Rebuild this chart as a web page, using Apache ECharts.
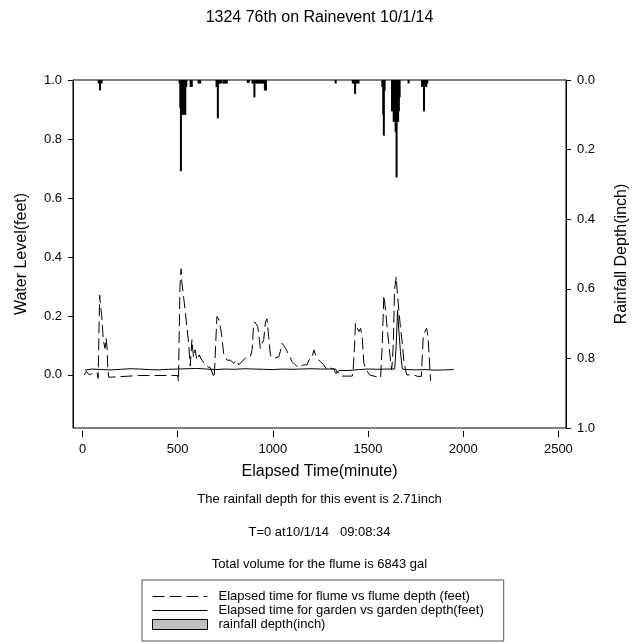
<!DOCTYPE html>
<html>
<head>
<meta charset="utf-8">
<script src="https://cdn.jsdelivr.net/npm/echarts@6/dist/echarts.min.js"></script>
<style>
html,body{margin:0;padding:0;background:#fff;}
#main{width:639px;height:642px;}
</style>
</head>
<body>
<div id="main"></div>
<script>
// flume depth (dashed), minutes / feet
var flumeTime = [10,20,28,36,48,60,76,82,90,94,101,109,118,124,129,133,138,145,300,500,504,512,518,521,539,557,566,575,583,592,601,613,627,636,653,671,680,692,697,706,715,724,732,741,750,759,768,776,785,794,803,811,820,829,838,846,855,864,882,891,899,904,913,920,929,934,943,952,961,969,978,987,996,1004,1013,1022,1031,1039,1048,1057,1066,1075,1083,1092,1101,1110,1118,1127,1136,1145,1162,1180,1189,1206,1215,1224,1233,1250,1267,1285,1303,1320,1329,1346,1355,1417,1422,1429,1434,1443,1452,1461,1469,1478,1487,1496,1508,1513,1566,1569,1575,1583,1592,1601,1609,1618,1624,1627,1633,1639,1648,1654,1662,1671,1680,1688,1697,1703,1741,1759,1780,1785,1790,1799,1808,1815,1822,1825,1829];
var flumeDepth = [0.0,0.012,0.008,0.0,0.004,0.008,0.008,-0.012,0.27,0.24,0.2,0.12,0.09,0.125,0.09,0.02,-0.008,-0.002,-0.002,-0.002,-0.023,0.3,0.36,0.32,0.22,0.11,0.03,0.12,0.06,0.085,0.05,0.068,0.05,0.045,0.028,0.025,0.01,-0.01,-0.015,0.198,0.19,0.164,0.13,0.074,0.07,0.05,0.045,0.05,0.045,0.04,0.034,0.05,0.034,0.028,0.045,0.05,0.057,0.062,0.062,0.085,0.17,0.18,0.175,0.165,0.12,0.09,0.085,0.12,0.18,0.19,0.13,0.068,0.057,0.06,0.057,0.057,0.062,0.079,0.107,0.1,0.09,0.08,0.068,0.057,0.045,0.04,0.034,0.028,0.025,0.03,0.034,0.034,0.05,0.057,0.085,0.068,0.057,0.045,0.034,0.017,0.023,0.02,0.006,0.008,-0.004,-0.004,0.02,0.096,0.175,0.16,0.147,0.158,0.13,0.04,0.023,0.017,0.0,-0.005,-0.01,-0.015,0.108,0.27,0.22,0.156,0.107,0.05,0.017,0.04,0.107,0.288,0.333,0.277,0.22,0.156,0.107,0.05,0.017,0.0,0.0,-0.005,-0.005,-0.011,0.13,0.147,0.158,0.13,0.055,0.017,-0.02];

// garden depth (solid)
var gardenTime = [13,50,100,150,200,250,300,350,400,450,500,550,600,650,700,750,800,850,900,950,1000,1050,1100,1150,1200,1250,1300,1330,1338,1346,1400,1450,1500,1550,1600,1640,1648,1655,1662,1670,1680,1700,1750,1800,1850,1900,1950];
var gardenDepth = [0.016,0.02,0.018,0.017,0.019,0.021,0.02,0.018,0.017,0.019,0.02,0.021,0.022,0.02,0.018,0.02,0.019,0.021,0.02,0.019,0.018,0.02,0.019,0.02,0.021,0.02,0.02,0.02,0.008,0.015,0.015,0.018,0.02,0.019,0.02,0.02,0.1,0.22,0.15,0.08,0.02,0.018,0.017,0.018,0.016,0.017,0.018];

// rainfall (inch), bars hanging from the top
var rainTime = [85,92,100,510,514,517,521,525,530,535,540,545,568,574,610,618,704,708,711,716,722,728,740,746,752,758,868,874,893,898,903,910,916,922,928,934,940,946,952,958,964,1330,1420,1425,1432,1438,1445,1450,1575,1580,1583,1587,1626,1630,1635,1640,1645,1650,1654,1658,1662,1666,1713,1784,1789,1794,1800,1806,1811];
var rainDepth = [0.01,0.03,0.01,0.01,0.08,0.262,0.1,0.1,0.1,0.1,0.1,0.02,0.02,0.02,0.01,0.01,0.02,0.02,0.11,0.01,0.01,0.01,0.01,0.01,0.01,0.01,0.008,0.008,0.01,0.01,0.05,0.01,0.01,0.01,0.01,0.01,0.01,0.01,0.01,0.03,0.03,0.01,0.01,0.01,0.04,0.01,0.01,0.01,0.02,0.1,0.16,0.03,0.09,0.09,0.12,0.12,0.15,0.28,0.12,0.12,0.09,0.05,0.01,0.02,0.02,0.09,0.02,0.02,0.01];

var xTicks = [0,500,1000,1500,2000,2500];
var levelTicks = [0,0.2,0.4,0.6,0.8,1.0];

function zip(a,b){
  var out=[];
  for(var i=0;i<a.length;i++){ out.push([a[i],b[i]]); }
  return out;
}

var font = 'Liberation Sans, Arial, sans-serif';
var chart = echarts.init(document.getElementById('main'), null, {renderer:'canvas'});
var noDot = {color:'rgba(0,0,0,0)',borderWidth:0,opacity:0};

var option = {
  animation:false,
  backgroundColor:'#fff',
  textStyle:{fontFamily:font,color:'#000'},
  title:[
    {text:'1324 76th on Rainevent 10/1/14',left:'center',top:10,padding:0,
      textStyle:{fontSize:16,fontWeight:'normal',color:'#000',fontFamily:font}},
    {text:'The rainfall depth for this event is 2.71inch',left:'center',top:493,padding:0,
      textStyle:{fontSize:13,fontWeight:'normal',color:'#000',fontFamily:font}},
    {text:'T=0 at10/1/14   09:08:34',left:'center',top:526,padding:0,
      textStyle:{fontSize:13,fontWeight:'normal',color:'#000',fontFamily:font}},
    {text:'Total volume for the flume is 6843 gal',left:'center',top:558,padding:0,
      textStyle:{fontSize:13,fontWeight:'normal',color:'#000',fontFamily:font}}
  ],
  legend:{
    orient:'vertical',
    left:142, top:580,
    padding:[10,20,10,10],
    itemWidth:55, itemHeight:10, itemGap:1,
    borderColor:'#555', borderWidth:1,
    lineStyle:{width:1},
    textStyle:{fontSize:13,color:'#000',fontFamily:font,padding:[0,0,0,6]},
    data:[
      {name:'Elapsed time for flume vs flume depth (feet)',itemStyle:noDot},
      {name:'Elapsed time for garden vs garden depth(feet)',itemStyle:noDot},
      {name:'rainfall depth(inch)',icon:'rect',itemStyle:{color:'#c0c0c0',borderColor:'#000',borderWidth:1}}
    ]
  },
  grid:{left:73,right:73,top:80,bottom:214,show:true,borderColor:'#000',borderWidth:1,backgroundColor:'transparent'},
  xAxis:{
    type:'value', min:-50, max:2540, offset:3,
    name:'Elapsed Time(minute)', nameLocation:'middle', nameGap:33,
    nameTextStyle:{fontSize:16,color:'#000',fontFamily:font},
    axisLine:{show:false,onZero:false},
    axisTick:{show:true,length:6,lineStyle:{color:'#000'},customValues:xTicks},
    axisLabel:{fontSize:13,color:'#000',margin:12,customValues:xTicks,
      formatter:function(v){return String(v);}},
    splitLine:{show:false}
  },
  yAxis:[
    {
      type:'value', min:-0.18, max:1.0, position:'left',
      name:'Water Level(feet)', nameLocation:'middle', nameGap:43,
      nameTextStyle:{fontSize:16,color:'#000',fontFamily:font},
      axisLine:{show:true,onZero:false,lineStyle:{color:'#000'}},
      axisTick:{show:true,length:5,lineStyle:{color:'#000'},customValues:levelTicks},
      axisLabel:{fontSize:13,color:'#000',margin:11,customValues:levelTicks,
        formatter:function(v){return v.toFixed(1);}},
      splitLine:{show:false}
    },
    {
      type:'value', min:0, max:1.0, interval:0.2, inverse:true, position:'right',
      name:'Rainfall Depth(inch)', nameLocation:'middle', nameGap:48, nameRotate:90,
      nameTextStyle:{fontSize:16,color:'#000',fontFamily:font},
      axisLine:{show:true,onZero:false,lineStyle:{color:'#000'}},
      axisTick:{show:true,length:5,lineStyle:{color:'#000'}},
      axisLabel:{fontSize:13,color:'#000',margin:11,
        formatter:function(v){return v.toFixed(1);}},
      splitLine:{show:false}
    }
  ],
  series:[
    {
      name:'rainfall depth(inch)', type:'bar', yAxisIndex:1,
      barWidth:2, itemStyle:{color:'#000'},
      data:zip(rainTime,rainDepth)
    },
    {
      name:'Elapsed time for flume vs flume depth (feet)', type:'line', yAxisIndex:0,
      symbol:'none', lineStyle:{color:'#000',width:1,type:[12,5]},
      itemStyle:{color:'#000'},
      data:zip(flumeTime,flumeDepth)
    },
    {
      name:'Elapsed time for garden vs garden depth(feet)', type:'line', yAxisIndex:0,
      symbol:'none', lineStyle:{color:'#000',width:1},
      itemStyle:{color:'#000'},
      data:zip(gardenTime,gardenDepth)
    }
  ]
};
chart.setOption(option);
</script>
</body>
</html>
